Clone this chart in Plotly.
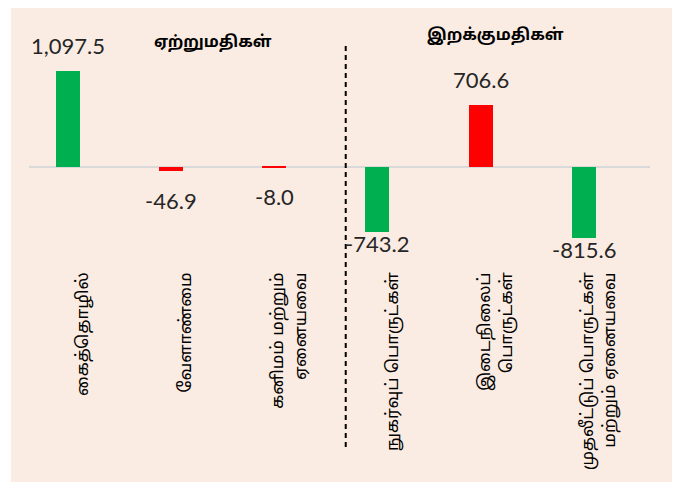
import plotly.graph_objects as go

categories = [
    "கைத்தொழில்",
    "வேளாண்மை",
    "கனிமம் மற்றும்<br>ஏனையவை",
    "நுகர்வுப் பொருட்கள்",
    "இடைநிலைப்<br>பொருட்கள்",
    "முதலீட்டுப் பொருட்கள்<br>மற்றும் ஏனையவை",
]
values = [1097.5, -46.9, -8.0, -743.2, 706.6, -815.6]
value_labels = ["1,097.5", "-46.9", "-8.0", "-743.2", "706.6", "-815.6"]
group_titles = ["ஏற்றுமதிகள்", "இறக்குமதிகள்"]

GREEN = "#00B050"
RED = "#FF0000"
colors = [GREEN, RED, RED, GREEN, RED, GREEN]
label_shift = [26, -29, -29, -12, 26, -11]

TAMIL = "Noto Sans Tamil, Lato, sans-serif"
NUM = "Lato, sans-serif"

# page offset of the figure (browser body margin)
OFF = 8
W, H = 683, 476
L, R, T, B = 21, 41, 28, 221
BAR_W = 0.232
BAR_OFF = -0.1425

fig = go.Figure()
fig.add_trace(go.Bar(
    x=categories, y=values,
    marker=dict(color=colors, line=dict(width=0)),
    width=BAR_W, offset=BAR_OFF - BAR_W / 2,
    hoverinfo="skip",
))

for i, (v, t) in enumerate(zip(values, value_labels)):
    fig.add_annotation(
        x=i + BAR_OFF, y=v, xref="x", yref="y",
        text=t, showarrow=False, yanchor="middle", xanchor="center",
        yshift=label_shift[i],
        font=dict(family=NUM, size=22, color="#262626"),
    )

plot_h = H - T - B
plot_w = W - L - R
def px_x(p):
    return (p - OFF - L) / plot_w
def px_y(p):
    return (H - B - (p - OFF)) / plot_h

fig.add_annotation(x=1.268, y=px_y(43), xref="x", yref="paper", yanchor="middle",
                   text="<b>" + group_titles[0] + "</b>",
                   showarrow=False, font=dict(family=TAMIL, size=16, color="#000000"))
fig.add_annotation(x=4.0, y=px_y(36), xref="x", yref="paper", yanchor="middle",
                   text="<b>" + group_titles[1] + "</b>",
                   showarrow=False, font=dict(family=TAMIL, size=16, color="#000000"))

# background panel
fig.add_shape(type="rect", xref="paper", yref="paper",
              x0=px_x(11), x1=px_x(672), y0=px_y(482), y1=px_y(3),
              fillcolor="#FBECE3", line=dict(width=0), layer="below")
# group separator
fig.add_shape(type="line", xref="x", yref="paper",
              x0=2.55, x1=2.55, y0=px_y(447), y1=px_y(42),
              line=dict(color="#000000", width=2, dash="5px,4px"))

fig.update_layout(
    width=W, height=H,
    margin=dict(l=L, r=R, t=T, b=B, pad=0),
    paper_bgcolor="#FFFFFF", plot_bgcolor="rgba(0,0,0,0)",
    showlegend=False, bargap=0,
    font=dict(family=TAMIL, color="#000000"),
)
fig.update_xaxes(
    tickangle=-90, showgrid=False, showline=False, ticks="",
    tickfont=dict(family=TAMIL, size=17, color="#000000"), automargin=False,
    ticklabelstandoff=5,
)
fig.update_yaxes(
    range=[-1100, 1500], showgrid=False, showticklabels=False, ticks="",
    zeroline=True, zerolinecolor="#D9D9D9", zerolinewidth=2, showline=False,
)

fig.write_html("out.html")
